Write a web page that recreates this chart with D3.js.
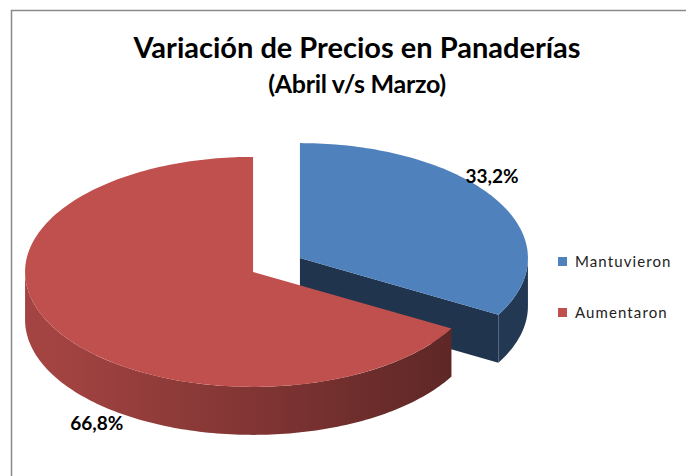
<!DOCTYPE html>
<html>
<head>
<meta charset="utf-8">
<script src="https://cdn.jsdelivr.net/npm/d3@7"></script>
<style>
  body { margin: 0; background: #fff; }
  svg { display: block; }
</style>
</head>
<body>
<script>
// Datos del gráfico
var categorias = ["Mantuvieron", "Aumentaron"];
var valores = [33.2, 66.8];
var etiquetas = ["33,2%", "66,8%"];
var coloresTapa = ["#4F81BD", "#C0504D"];

var ancho = 686, alto = 476;
var fuente = "Lato, 'Open Sans', sans-serif";

var svg = d3.select("body").append("svg")
  .attr("width", ancho)
  .attr("height", alto);

// Marco del área del gráfico
svg.append("rect")
  .attr("x", 11.5).attr("y", 10.5)
  .attr("width", 700).attr("height", 500)
  .attr("fill", "#fff")
  .attr("stroke", "#8a8a8a")
  .attr("stroke-width", 1.5);

// Títulos
svg.append("text")
  .attr("x", 357).attr("y", 58)
  .attr("text-anchor", "middle")
  .style("font-family", fuente)
  .style("font-weight", "bold")
  .style("font-size", "29px")
  .text("Variación de Precios en Panaderías");

svg.append("text")
  .attr("x", 357).attr("y", 93)
  .attr("text-anchor", "middle")
  .style("font-family", fuente)
  .style("font-weight", "bold")
  .style("font-size", "25px")
  .style("letter-spacing", "-0.3px")
  .text("(Abril v/s Marzo)");

// Geometría de la torta 3D
var cx = 276.5, cy = 265;     // centro de la tapa
var rx = 228, ry = 115;       // radios de la elipse
var prof = 48;                // espesor
var explosion = 0.119;        // separación de las porciones

var color = d3.scaleOrdinal().domain(categorias).range(coloresTapa);

var porciones = d3.pie().sort(null).value(function(d) { return d; })(valores)
  .map(function(p, i) {
    var medio = (p.startAngle + p.endAngle) / 2;
    p.cat = categorias[i];
    p.etiqueta = etiquetas[i];
    p.medio = medio;
    p.ox = explosion * rx * Math.sin(medio);
    p.oy = -explosion * ry * Math.cos(medio);
    return p;
  });

function punto(p, a, r, dz) {
  return [cx + p.ox + rx * r * Math.sin(a), cy + p.oy - ry * r * Math.cos(a) + (dz || 0)];
}

function arco(p, a0, a1, dz) {
  var n = Math.max(2, Math.ceil(Math.abs(a1 - a0) / 0.02));
  return d3.range(n + 1).map(function(i) {
    return punto(p, a0 + (a1 - a0) * i / n, 1, dz);
  });
}

var linea = d3.line().curve(d3.curveLinear);

// degradados para los costados
var defs = svg.append("defs");
porciones.forEach(function(p, i) {
  var base = d3.color(color(p.cat));
  var g = defs.append("linearGradient")
    .attr("id", "lado" + i)
    .attr("gradientUnits", "userSpaceOnUse")
    .attr("x1", cx - rx).attr("x2", cx + rx)
    .attr("y1", 0).attr("y2", 0);
  g.append("stop").attr("offset", 0).attr("stop-color", base.darker(0.45));
  g.append("stop").attr("offset", 1).attr("stop-color", base.darker(2.3));
});

// orden de pintado: de atrás hacia adelante
var orden = porciones.slice().sort(function(a, b) { return a.oy - b.oy; });

orden.forEach(function(p) {
  var i = porciones.indexOf(p);
  var g = svg.append("g");
  var oscuro = d3.color(color(p.cat)).darker(2.5);

  // caras radiales visibles
  [[p.startAngle, -1], [p.endAngle, 1]].forEach(function(c) {
    var normal = c[0] + c[1] * Math.PI / 2;
    if (Math.cos(normal) < -1e-6) {
      var pts = [punto(p, 0, 0), punto(p, c[0], 1), punto(p, c[0], 1, prof), punto(p, 0, 0, prof)];
      g.append("path").attr("d", linea(pts) + "Z").attr("fill", oscuro);
    }
  });

  // costado exterior (mitad delantera)
  var a0 = Math.max(p.startAngle, Math.PI / 2);
  var a1 = Math.min(p.endAngle, 3 * Math.PI / 2);
  if (a1 > a0) {
    var pts = arco(p, a0, a1, 0).concat(arco(p, a1, a0, prof));
    g.append("path").attr("d", linea(pts) + "Z").attr("fill", "url(#lado" + i + ")");
  }

  // tapa
  var tapa = [punto(p, 0, 0)].concat(arco(p, p.startAngle, p.endAngle, 0));
  g.append("path").attr("d", linea(tapa) + "Z").attr("fill", color(p.cat));
});

// Etiquetas de datos
var ajusteAngulo = [-0.17, -0.37];
porciones.forEach(function(p, i) {
  var a = p.medio + ajusteAngulo[i];
  var delante = Math.cos(a) < 0;
  var pos = punto(p, a, 1.1, delante ? prof + 5 : 0);
  svg.append("text")
    .attr("x", pos[0]).attr("y", pos[1] + 6)
    .attr("text-anchor", "middle")
    .style("font-family", fuente)
    .style("font-weight", "bold")
    .style("font-size", "19px")
    .text(p.etiqueta);
});

// Leyenda
var leyenda = svg.append("g").attr("transform", "translate(558,257)");
var filas = leyenda.selectAll("g").data(categorias).enter().append("g")
  .attr("transform", function(d, i) { return "translate(0," + (i * 51) + ")"; });
filas.append("rect")
  .attr("width", 9).attr("height", 9)
  .attr("fill", function(d) { return color(d); });
filas.append("text")
  .attr("x", 17).attr("y", 10)
  .style("font-family", fuente)
  .style("font-size", "15px")
  .style("letter-spacing", "1.1px")
  .attr("fill", "#222")
  .text(function(d) { return d; });
</script>
</body>
</html>
